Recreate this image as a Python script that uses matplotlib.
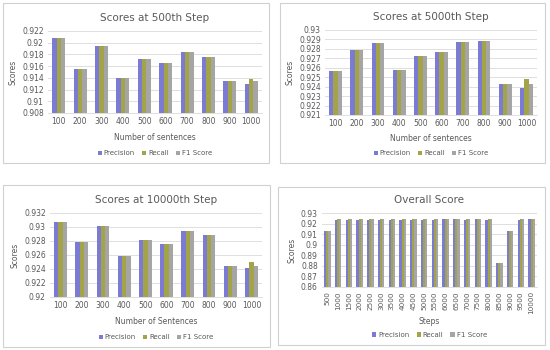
import matplotlib
matplotlib.use('Agg')
import matplotlib.pyplot as plt
from matplotlib.patches import Rectangle
from matplotlib.ticker import FuncFormatter, MultipleLocator
import numpy as np

# ---- data ----
sentences = ['100', '200', '300', '400', '500', '600', '700', '800', '900', '1000']

p500 = [0.9208, 0.9155, 0.9195, 0.9140, 0.9172, 0.9165, 0.9184, 0.9176, 0.9135, 0.9129]
r500 = [0.9208, 0.9155, 0.9195, 0.9140, 0.9172, 0.9165, 0.9184, 0.9176, 0.9135, 0.9138]
f500 = [0.9208, 0.9155, 0.9195, 0.9140, 0.9172, 0.9165, 0.9184, 0.9176, 0.9135, 0.9134]

p5000 = [0.9257, 0.9279, 0.9286, 0.9258, 0.9272, 0.9277, 0.9287, 0.9288, 0.9243, 0.9239]
r5000 = [0.9257, 0.9279, 0.9286, 0.9258, 0.9272, 0.9277, 0.9287, 0.9288, 0.9243, 0.9248]
f5000 = [0.9257, 0.9279, 0.9286, 0.9258, 0.9272, 0.9277, 0.9287, 0.9288, 0.9243, 0.9243]

p10000 = [0.9307, 0.9278, 0.9302, 0.9258, 0.9282, 0.9276, 0.9294, 0.9288, 0.9245, 0.9241]
r10000 = [0.9307, 0.9278, 0.9302, 0.9258, 0.9282, 0.9276, 0.9294, 0.9288, 0.9245, 0.9250]
f10000 = [0.9307, 0.9278, 0.9302, 0.9258, 0.9282, 0.9276, 0.9294, 0.9288, 0.9245, 0.9245]

steps = ['500', '1000', '1500', '2000', '2500', '3000', '3500', '4000', '4500', '5000',
         '5500', '6000', '6500', '7000', '7500', '8000', '8500', '9000', '9500', '10000']
p_all = [0.9128, 0.9238, 0.9238, 0.9238, 0.9238, 0.9238, 0.9238, 0.9238, 0.9238, 0.9238,
         0.9238, 0.9240, 0.9240, 0.9238, 0.9240, 0.9238, 0.8825, 0.9125, 0.9238, 0.9242]
r_all = [0.9132, 0.9240, 0.9240, 0.9240, 0.9240, 0.9240, 0.9240, 0.9240, 0.9240, 0.9240,
         0.9240, 0.9242, 0.9242, 0.9240, 0.9242, 0.9240, 0.8828, 0.9130, 0.9240, 0.9245]
f_all = [0.9130, 0.9239, 0.9239, 0.9239, 0.9239, 0.9239, 0.9239, 0.9239, 0.9239, 0.9239,
         0.9239, 0.9241, 0.9241, 0.9239, 0.9241, 0.9239, 0.8826, 0.9128, 0.9239, 0.9243]

series_names = ['Precision', 'Recall', 'F1 Score']
colors = ['#7b7bd4', '#a3a347', '#a5a5a5']
TXT = '#595959'
GRID = '#d9d9d9'

W, H = 550, 350


def fmt(v, pos):
    s = '%.3f' % v
    s = s.rstrip('0').rstrip('.')
    return s


def px_rect(l, t, r, b):
    return [l / W, 1 - b / H, (r - l) / W, (b - t) / H]


def draw_panel(fig, box, area, cats, data, title, xlabel, ylim, ystep,
               width=0.2, rotate=False, xlab_y=-0.3, leg_y=-0.5, xt_size=5.5):
    # chart border like an Excel chart
    l, t, r, b = box
    fig.patches.append(Rectangle((l / W, 1 - b / H), (r - l) / W, (b - t) / H,
                                 transform=fig.transFigure, fill=False,
                                 edgecolor='#d0d0d0', linewidth=0.8))
    ax = fig.add_axes(px_rect(*area))
    x = np.arange(len(cats))
    for i, (vals, name, c) in enumerate(zip(data, series_names, colors)):
        ax.bar(x + (i - 1) * width, vals, width, color=c, label=name, zorder=3)
    ax.set_ylim(*ylim)
    ax.set_xlim(-0.5, len(cats) - 0.5)
    ax.yaxis.set_major_locator(MultipleLocator(ystep))
    ax.yaxis.set_major_formatter(FuncFormatter(fmt))
    ax.grid(axis='y', color=GRID, linewidth=0.6, zorder=0)
    ax.set_xticks(x)
    ax.set_xticklabels(cats, rotation=90 if rotate else 0)
    ax.tick_params(length=0, labelsize=5.5, labelcolor=TXT, pad=3)
    ax.tick_params(axis='x', labelsize=xt_size)
    for s in ['top', 'right', 'left']:
        ax.spines[s].set_visible(False)
    ax.spines['bottom'].set_color(GRID)
    ax.spines['bottom'].set_linewidth(0.6)
    ax.set_title(title, fontsize=7.5, color=TXT, pad=7)
    ax.set_ylabel('Scores', fontsize=5.5, color=TXT, labelpad=3)
    ax.set_xlabel(xlabel, fontsize=5.5, color=TXT)
    ax.xaxis.set_label_coords(0.5, xlab_y)
    ax.legend(loc='center', bbox_to_anchor=(0.5, leg_y), ncol=3, frameon=False,
              fontsize=5, labelcolor=TXT, handlelength=0.6, handleheight=0.6,
              handletextpad=0.3, columnspacing=1.0)
    return ax


fig = plt.figure(figsize=(5.5, 3.5), dpi=100)

draw_panel(fig, (3, 3, 269, 163), (48, 31, 262, 113), sentences,
           [p500, r500, f500], 'Scores at 500th Step', 'Number of sentences',
           (0.908, 0.922), 0.002, xlab_y=-0.25, leg_y=-0.49)
draw_panel(fig, (280, 3, 545, 163), (325, 30, 537, 115), sentences,
           [p5000, r5000, f5000], 'Scores at 5000th Step', 'Number of sentences',
           (0.921, 0.93), 0.001, xlab_y=-0.22, leg_y=-0.45)
draw_panel(fig, (3, 185, 270, 347), (50, 213, 262, 297), sentences,
           [p10000, r10000, f10000], 'Scores at 10000th Step', 'Number of Sentences',
           (0.92, 0.932), 0.002, xlab_y=-0.24, leg_y=-0.48)
draw_panel(fig, (278, 187, 545, 345), (322, 213, 537, 287), steps,
           [p_all, r_all, f_all], 'Overall Score', 'Steps',
           (0.86, 0.93), 0.01, rotate=True, xlab_y=-0.4, leg_y=-0.65, xt_size=5.2)

fig.savefig('out.png', dpi=100)
